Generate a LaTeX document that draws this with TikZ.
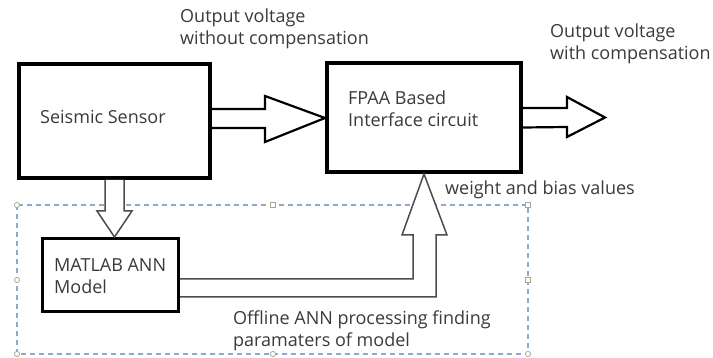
\documentclass[tikz,border=0pt]{standalone}
\usepackage{fontspec}
\setmainfont{Open Sans}
\usetikzlibrary{calc}
\definecolor{txt}{HTML}{3A3A3A}
\definecolor{dashc}{HTML}{8FAAC8}
\definecolor{hand}{HTML}{A8A890}
\tikzset{
  box/.style={draw=black, fill=white, inner sep=0pt},
  lbl/.style={text=txt, font=\fontsize{18}{22}\selectfont, align=left, inner sep=0pt, anchor=west},
  bigarrow/.style={draw=black, line width=2.2pt, fill=white, line join=miter},
  thinarrow/.style={draw=black!70, line width=1.5pt, fill=white, line join=miter},
  handle/.style={draw=hand, line width=0.8pt, fill=white},
}
\begin{document}
\begin{tikzpicture}[x=1pt,y=-1pt]
\useasboundingbox (0,0) rectangle (713,358);
% dashed group frame
\draw[dashc, line width=1.2pt, dash pattern=on 5pt off 4pt] (17,205) rectangle (528,354);
\foreach \hx/\hy in {17/205,17/280,17/354,273/354,528/354}
  \draw[handle] (\hx,\hy) circle (2.6pt);
\foreach \hx/\hy in {273/205,528/205,528/280}
  \draw[handle] (\hx-2.5,\hy-2.5) rectangle (\hx+2.5,\hy+2.5);
% boxes
\node[box, line width=4pt, minimum width=191pt, minimum height=114pt] (s) at (114.5,121) {};
\node[box, line width=4pt, minimum width=194pt, minimum height=109pt] (f) at (424,117.5) {};
\node[box, line width=3pt, minimum width=136pt, minimum height=73pt] (m) at (110.5,275) {};
% texts
\node[lbl] (ts) at (40,117) {Seismic Sensor};
\node[lbl] (tf) at (348,108.5) {FPAA Based\\Interface circuit};
\node[lbl] (tm) at (54,276.5) {MATLAB ANN\\Model};
\node[lbl] (to1) at (180,29) {Output voltage\\without compensation};
\node[lbl] (to2) at (550,44) {Output voltage\\with compensation};
\node[lbl] (tw) at (445,190) {weight and bias values};
\node[lbl] (toff) at (233,331) {Offline ANN processing finding\\paramaters of model};
% arrow sensor -> FPAA
\draw[bigarrow] ($(s.east)+(0,-12)$) -- ++(53,0) -- ++(0,-13) -- ($(f.west)+(0,0.5)$)
  -- ($(s.east)+(53,21)$) -- ++(0,-14) -- ($(s.east)+(0,7)$);
% output arrow
\draw[bigarrow] ($(f.east)+(0,-9.5)$) -- ++(44,0) -- ++(0,-11) -- ++(38,20.5)
  -- ++(-38,19.5) -- ++(0,-10) -- ($(f.east)+(0,10)$);
% down arrow sensor -> MATLAB
\draw[thinarrow] ($(s.south)+(-9.5,0)$) -- ++(0,31) -- ++(-8,0) -- ($(m.north)+(4,0)$)
  -- ($(s.south)+(17.5,31)$) -- ++(-8,0) -- ($(s.south)+(9.5,0)$);
% bent arrow MATLAB -> FPAA
\coordinate (b1) at (413,279);
\coordinate (b2) at (413,235);
\coordinate (b3) at (436,235);
\coordinate (b4) at (436,297);
\draw[thinarrow] ($(m.east)+(0,4)$) -- (b1) -- (b2) -- ++(-11,0) -- (f.south)
  -- ($(b3)+(11,0)$) -- (b3) -- (b4) -- ($(m.east)+(0,22)$);
\end{tikzpicture}
\end{document}
